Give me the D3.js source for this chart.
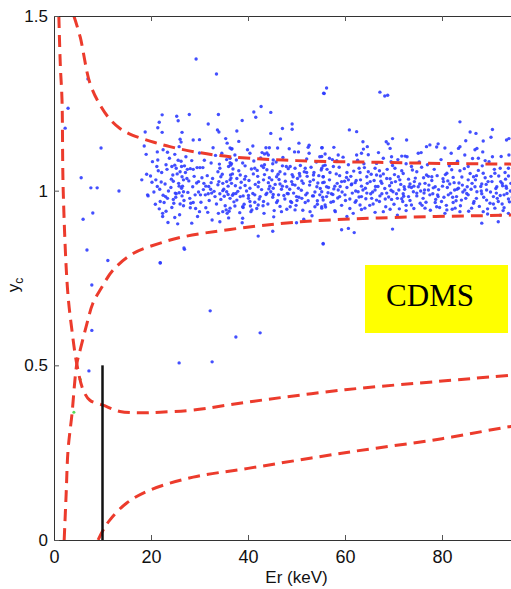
<!DOCTYPE html>
<html>
<head>
<meta charset="utf-8">
<script src="https://cdn.jsdelivr.net/npm/d3@7"></script>
<style>
body { margin: 0; background: #fff; }
</style>
</head>
<body>
<div id="chart"></div>
<script>
// axis ticks
var xTicks = [0, 20, 40, 60, 80];
var yTicks = [0, 0.5, 1, 1.5];

// band limits (dashed red) as [Er, yc]
var elecUpper = [[4.1, 1.5], [5.4, 1.44], [7.4, 1.308], [9.5, 1.245], [11.5, 1.205], [13.6, 1.178], [16, 1.16],
	[19.8, 1.142], [23.9, 1.126], [29.5, 1.11], [36.3, 1.097], [50, 1.086], [67, 1.081], [80, 1.078], [94, 1.076], [100, 1.075]];
var elecLower = [[2.1, 0], [2.5, 0.13], [2.9, 0.258], [3.7, 0.36], [4.7, 0.504], [5.4, 0.544], [6.8, 0.62],
	[8, 0.677], [9.7, 0.72], [12.2, 0.773], [16.3, 0.82], [21.9, 0.85], [26.7, 0.868], [36.3, 0.889],
	[50, 0.91], [67, 0.922], [94, 0.93], [100, 0.932]];
var nucUpper = [[1.0, 1.5], [1.3, 1.36], [1.65, 1.26], [1.9, 1.0], [2.8, 0.716], [3.7, 0.6], [4.7, 0.504],
	[6.0, 0.43], [7.4, 0.40], [10.1, 0.386], [13.6, 0.368], [17.7, 0.364], [21.9, 0.366], [28.7, 0.372],
	[40, 0.395], [60, 0.43], [80, 0.455], [94.2, 0.472], [100, 0.48]];
var nucLower = [[9.1, 0], [10, 0.025], [11.5, 0.057], [15, 0.106], [19.8, 0.143], [28.7, 0.18], [40, 0.205],
	[60, 0.25], [80, 0.29], [94.2, 0.325], [100, 0.335]];

// threshold marker
var thresholdEr = 10;
var thresholdTop = 0.5;

// events outside the main band
var strayEvents = [[7.0, 1.32], [2.9, 1.236], [2.3, 1.179], [9.7, 1.122], [5.6, 1.037], [7.6, 1.008], [8.9, 1.008],
	[13.4, 0.999], [6.0, 0.918], [8.0, 0.936], [6.8, 0.83], [11.1, 0.80], [7.8, 0.73], [7.8, 0.6], [7.2, 0.484],
	[25.8, 0.507], [21.9, 0.793], [26.8, 0.836], [29.3, 1.377], [33.5, 1.334], [32.2, 0.656], [37.5, 0.581],
	[42.5, 0.593], [32.6, 0.51], [55.6, 1.279], [56.2, 1.294], [55.7, 1.278], [67.2, 1.282], [68.2, 1.271],
	[68.8, 1.273], [18.1, 1.031], [19.4, 0.985]];
var greenEvents = [[5.4, 0.46], [4.1, 0.366]];

// electron recoil band events, first pass (edges and visible clusters)
var bandEvents = [
	[22.3, 1.217], [25.3, 1.213], [27.9, 1.218], [33.9, 1.218], [21.7, 1.196], [21.4, 1.18], [22.3, 1.167],
	[25.6, 1.2], [18.8, 1.168], [26.4, 1.167], [31.8, 1.191], [33.7, 1.174], [34, 1.168], [26.0, 1.147],
	[26.2, 1.139], [25.8, 1.126], [28.7, 1.145], [30, 1.146], [35.4, 1.149], [35.7, 1.136], [36.3, 1.122],
	[36.7, 1.12], [18.6, 1.128], [19, 1.104], [21.3, 1.111], [23.4, 1.11], [32.8, 1.123], [34.6, 1.107],
	[25.6, 1.087], [19.1, 1.047], [19.9, 1.042], [20.2, 1.024], [21.2, 1.069], [21.5, 1.057], [23.1, 1.074],
	[24.3, 1.069], [24.9, 1.073], [25.2, 1.064], [24.5, 1.045], [26.3, 1.069], [26.9, 1.071], [27.5, 1.061],
	[28.1, 1.063], [28.7, 1.061], [29.5, 1.066], [30.1, 1.066], [30.7, 1.066], [26, 1.054], [26.4, 1.04],
	[27.4, 1.035], [26.7, 1.031], [21.3, 1.012], [22.1, 1.025], [24.2, 1.033], [19.3, 0.988], [25.8, 1.013],
	[26.3, 1.007], [25.8, 0.994], [26.7, 0.997], [26.4, 0.985], [25, 0.993], [25.2, 0.991], [29.8, 1.026],
	[30.9, 1.021], [31.3, 1.013], [32.4, 1.023], [32.3, 1.004], [33.8, 1.054], [34.2, 1.064], [34.4, 1.04],
	[34.8, 1.021], [34.0, 1.026], [35.6, 1.026], [36.3, 1.031], [36.4, 1.045], [36, 1.069], [36.3, 1.08],
	[36.6, 1.077], [22.5, 0.987], [23.0, 0.983], [23.4, 0.978], [22.7, 0.966], [21.9, 0.969], [24.6, 0.975],
	[24.7, 0.964], [26, 0.962], [26.7, 0.957], [28, 0.978], [28.2, 0.964], [28.7, 0.966], [29.1, 0.988],
	[30.2, 0.988], [31.2, 0.988], [31.8, 0.991], [32.5, 0.993], [33.2, 0.983], [34.2, 0.991], [34.8, 1.0],
	[35.6, 0.997], [35.9, 0.989], [35.1, 0.984], [36.3, 0.978], [36.8, 0.987], [22.4, 0.935], [22.4, 0.926],
	[23.5, 0.909], [24.9, 0.923], [25.5, 0.905], [28.4, 0.907], [29.6, 0.926], [30, 0.94], [31.7, 0.938],
	[32.6, 0.916], [34.2, 0.911], [33.9, 0.935], [34.8, 0.94], [35.5, 0.945], [36.0, 0.922], [36.3, 0.95],
	[35.7, 0.935], [26.9, 0.832], [21.9, 0.794],
	[42.7, 1.241], [41.2, 1.225], [41.6, 1.21], [44.7, 1.224], [38.8, 1.201], [37.7, 1.171], [47.1, 1.178],
	[49.1, 1.191], [49.1, 1.176], [44.7, 1.164], [46.7, 1.148], [38.1, 1.141], [41, 1.128], [36.6, 1.119],
	[43.7, 1.123], [44.4, 1.123], [46.1, 1.122], [48.5, 1.12], [50.5, 1.136], [52.6, 1.13], [52.4, 1.124],
	[55.3, 1.123], [42.9, 1.109], [43.4, 1.105], [40.4, 1.107], [37.3, 1.102], [36.3, 1.093], [50.4, 1.111],
	[52.6, 1.107], [45.2, 1.088], [44.2, 1.102], [49.7, 1.064], [48.7, 1.069], [51.8, 1.064], [55.5, 1.071],
	[54.8, 1.097], [41.4, 1.064], [42.8, 1.071], [43.4, 1.074], [43.9, 1.06], [45.1, 1.077], [41.1, 1.048],
	[39.4, 1.071], [38.4, 1.045], [36.8, 1.048], [36.4, 1.073], [46.6, 1.054], [47.1, 1.071], [47.6, 1.048],
	[45.9, 1.04], [49.3, 1.04], [50.7, 1.042], [52.1, 1.052], [53.5, 1.045], [55.1, 1.059], [55.5, 1.04],
	[36.6, 1.021], [37.7, 1.035], [39.4, 1.015], [40.4, 1.007], [42.1, 1.011], [43.2, 1.031], [44.2, 1.023],
	[44.5, 1.013], [45.2, 1.007], [46.6, 1.019], [48, 1.011], [49, 1.026], [49.7, 1.016], [50.4, 1.007],
	[51.4, 1.021], [52.8, 1.026], [54.2, 1.011], [55.4, 1.023], [37, 0.991], [38.4, 0.983], [39, 0.985],
	[40.1, 0.978], [41.4, 0.988], [42.5, 0.983], [43.9, 0.993], [45.1, 0.981], [46.3, 0.988], [47.6, 0.976],
	[48.3, 0.991], [50, 0.983], [51.1, 0.978], [52.2, 0.993], [53.5, 0.985], [54.8, 0.988], [37.7, 0.973],
	[40.4, 0.969], [43.2, 0.969], [45.9, 0.966], [49, 0.966], [51.8, 0.966], [54.3, 0.971], [37.3, 0.956],
	[38.9, 0.954], [40.8, 0.945], [42.1, 0.959], [43.3, 0.935], [45.4, 0.943], [46.9, 0.94], [48.7, 0.954],
	[49.7, 0.945], [52.8, 0.94], [53.8, 0.954], [55.2, 0.95], [40.6, 0.94], [38.8, 0.908], [50, 0.908],
	[51.5, 0.918], [38.9, 0.921], [42.1, 0.87], [45.1, 0.884], [55.5, 0.849],
	[60.9, 1.174], [62.4, 1.169], [63.7, 1.14], [64.6, 1.126], [63.8, 1.119], [68.5, 1.14], [69.8, 1.149],
	[68.9, 1.134], [72.7, 1.145], [55.2, 1.123], [57.7, 1.124], [55.9, 1.105], [56.8, 1.093], [58.6, 1.102],
	[62.4, 1.102], [63.4, 1.107], [66.9, 1.109], [69.3, 1.121], [69.6, 1.097], [71.7, 1.099], [72.4, 1.099],
	[69.5, 1.083], [55.2, 1.064], [55.9, 1.073], [57.6, 1.069], [58.3, 1.086], [60.4, 1.052], [62.9, 1.064],
	[63.9, 1.077], [64.8, 1.054], [66.2, 1.064], [67.1, 1.057], [67.9, 1.048], [70.3, 1.064], [71.7, 1.057],
	[73.7, 1.069], [72.6, 1.077], [56.9, 1.052], [55.5, 1.04], [56.2, 1.011], [57.9, 1.013], [59.3, 1.026],
	[60.7, 1.031], [61.4, 1.019], [62.1, 1.023], [63.4, 1.013], [64.5, 1.04], [65.2, 1.026], [66.5, 1.045],
	[67.6, 1.021], [68.6, 1.035], [69.6, 1.023], [71, 1.04], [72.2, 1.011], [73.4, 1.019], [74.2, 1.013],
	[71.3, 1.031], [55.2, 0.997], [56.2, 0.983], [57.2, 0.991], [58.6, 1.002], [58.9, 0.983], [60, 0.988],
	[61, 0.976], [62.7, 0.997], [63.4, 0.983], [64.5, 0.993], [65.5, 0.978], [66.2, 1.002], [67.2, 0.985],
	[68.6, 0.993], [69.9, 0.997], [70.8, 0.978], [72, 0.991], [73.1, 0.983], [74.1, 0.997], [55.5, 0.973],
	[57.6, 0.969], [62.3, 0.971], [66.5, 0.973], [69.6, 0.975], [71.9, 0.969], [55.9, 0.959], [58, 0.94],
	[60.4, 0.926], [61.7, 0.935], [63.1, 0.959], [64.1, 0.95], [65.8, 0.962], [67.9, 0.94], [69.3, 0.947],
	[70.8, 0.93], [72.6, 0.943], [73.7, 0.959], [55.2, 0.954], [59.3, 0.888], [60.7, 0.892], [61.9, 0.88],
	[69.8, 0.89], [55.5, 0.847],
	[83.7, 1.197], [85.8, 1.168], [87, 1.164], [90.4, 1.175], [90.1, 1.153], [93.3, 1.145], [93.8, 1.149],
	[77.5, 1.131], [78.9, 1.125], [79.2, 1.134], [76.8, 1.126], [75.1, 1.107], [75.7, 1.109], [80.6, 1.122],
	[81.9, 1.107], [83.4, 1.121], [83.7, 1.126], [84.9, 1.143], [86.8, 1.117], [87.2, 1.121], [88.5, 1.142],
	[88.4, 1.111], [84.7, 1.102], [88.9, 1.086], [90.4, 1.097], [93.8, 1.102], [87.5, 1.093], [75.8, 1.067],
	[77.9, 1.04], [76.8, 1.045], [81, 1.05], [82, 1.06], [83.7, 1.057], [85.4, 1.069], [86.5, 1.04],
	[88.5, 1.05], [90.9, 1.05], [92, 1.064], [93, 1.052], [93.7, 1.042], [74.8, 1.054], [75.1, 1.011],
	[76.5, 1.021], [78.6, 1.011], [80.3, 1.026], [81.6, 1.019], [82.5, 1.023], [83.4, 1.007], [85.4, 1.031],
	[86.8, 1.011], [88.2, 1.019], [89.5, 1.026], [91.3, 1.011], [92.4, 1.021], [93.3, 1.007], [77.2, 1.002],
	[84.7, 1.002], [74.8, 0.993], [76.1, 0.978], [77.5, 0.988], [79.2, 0.983], [79.9, 0.969], [81.3, 0.988],
	[83, 0.983], [84, 0.973], [85.4, 0.988], [87.1, 0.978], [88.2, 0.991], [89.2, 0.973], [90.6, 0.983],
	[91.6, 0.969], [92.8, 0.988], [93.7, 0.976], [75.5, 0.964], [78.6, 0.966], [82.3, 0.966], [86.5, 0.964],
	[89.9, 0.964], [92.4, 0.962], [76.5, 0.95], [78.9, 0.954], [81, 0.945], [82.7, 0.95], [83.7, 0.94],
	[86.1, 0.95], [88.5, 0.94], [90.9, 0.95], [92.6, 0.943], [80.6, 0.935], [88.2, 0.907], [91.6, 0.911],
	[92, 0.93], [89.4, 0.933], [93.7, 0.935]
];

// electron recoil band events, second pass (dense core)
var bandCoreEvents = [
	[20.3, 1.083], [20.6, 0.996], [20.9, 0.961], [21.0, 1.031], [21.4, 1.088], [21.7, 0.948], [21.8, 1.004],
	[22.2, 1.052], [22.5, 1.117], [22.9, 1.019], [23.1, 0.941], [23.3, 1.061], [23.6, 0.999], [23.8, 1.093],
	[24.1, 1.009], [24.3, 0.952], [24.6, 1.027], [24.9, 1.104], [25.1, 0.981], [25.4, 1.048], [25.7, 1.021],
	[25.9, 0.931], [26.2, 1.084], [26.5, 1.013], [26.8, 0.972], [27.1, 1.052], [27.2, 1.097], [27.6, 0.995],
	[27.8, 1.028], [28.1, 0.951], [28.4, 1.086], [28.6, 1.011], [28.9, 1.041], [29.2, 0.949], [29.4, 1.022],
	[29.8, 0.996], [30.0, 1.108], [30.3, 0.967], [30.5, 1.037], [30.8, 1.003], [31.0, 1.087], [31.3, 0.951],
	[31.6, 1.043], [31.9, 1.012], [32.0, 0.972], [32.4, 1.079], [32.7, 1.035], [33.0, 0.998], [33.3, 1.101],
	[33.5, 0.962], [33.8, 1.017], [34.1, 1.076], [34.4, 0.975], [34.7, 1.047], [35.0, 1.004], [35.3, 0.957],
	[35.6, 1.089], [35.9, 1.013], [36.1, 0.941], [36.5, 1.036],
	[36.9, 1.062], [37.1, 0.968], [37.4, 1.014], [37.6, 1.088], [37.9, 0.998], [38.1, 1.057], [38.3, 0.937],
	[38.6, 1.024], [38.9, 1.079], [39.2, 0.961], [39.5, 1.041], [39.7, 0.999], [39.9, 1.117], [40.2, 1.029],
	[40.5, 0.956], [40.7, 1.062], [41.0, 0.992], [41.2, 1.085], [41.5, 1.018], [41.8, 0.949], [42.0, 1.041],
	[42.3, 0.976], [42.6, 1.094], [42.8, 1.003], [43.1, 0.957], [43.4, 1.046], [43.7, 0.989], [43.9, 1.108],
	[44.1, 0.962], [44.4, 1.037], [44.7, 0.997], [45.0, 1.057], [45.3, 0.925], [45.6, 1.018], [45.8, 1.082],
	[46.1, 0.971], [46.4, 1.032], [46.6, 0.955], [46.9, 1.004], [47.2, 1.095], [47.4, 0.986], [47.7, 1.027],
	[48.0, 0.947], [48.3, 1.063], [48.6, 1.004], [48.8, 0.969], [49.1, 1.046], [49.4, 0.993], [49.6, 1.111],
	[49.9, 0.958], [50.2, 1.035], [50.5, 0.981], [50.8, 1.072], [51.0, 1.001], [51.3, 0.944], [51.6, 1.054],
	[51.9, 0.988], [52.1, 1.091], [52.4, 0.971], [52.7, 1.016], [53.0, 1.067], [53.2, 0.928], [53.5, 1.031],
	[53.8, 0.996], [54.1, 1.082], [54.3, 0.961], [54.6, 1.043], [54.9, 1.006], [55.2, 1.098], [55.4, 0.981],
	[37.5, 0.992], [38.4, 1.008], [39.3, 1.033], [40.1, 0.986], [41.4, 0.967], [42.2, 1.024], [43.2, 1.066],
	[44.3, 1.005], [45.2, 0.989], [46.2, 1.047], [47.1, 1.013], [48.1, 0.992], [49.2, 1.018], [50.1, 0.972],
	[51.1, 1.028], [52.2, 1.041], [53.3, 0.985], [54.4, 1.022], [39.0, 0.952], [41.9, 1.058], [44.9, 1.031],
	[47.9, 1.069], [50.6, 1.049], [53.6, 1.052],
	[55.7, 1.024], [56.0, 0.953], [56.3, 1.061], [56.5, 0.994], [56.8, 1.031], [57.1, 0.967], [57.4, 1.089],
	[57.7, 1.005], [57.9, 0.943], [58.2, 1.048], [58.5, 0.979], [58.8, 1.067], [59.0, 1.012], [59.3, 0.958],
	[59.6, 1.096], [59.9, 1.027], [60.1, 0.972], [60.4, 1.009], [60.7, 1.074], [61.0, 0.949], [61.2, 1.041],
	[61.5, 0.993], [61.8, 1.056], [62.1, 0.967], [62.3, 1.029], [62.6, 1.087], [62.9, 0.982], [63.2, 1.031],
	[63.4, 0.946], [63.7, 1.002], [64.0, 1.066], [64.3, 0.977], [64.6, 1.021], [64.8, 1.103], [65.1, 0.958],
	[65.4, 1.047], [65.7, 0.996], [66.0, 1.029], [66.2, 0.938], [66.5, 1.078], [66.8, 1.012], [67.1, 0.969],
	[67.3, 1.042], [67.6, 0.991], [67.9, 1.093], [68.2, 1.006], [68.4, 0.954], [68.7, 1.061], [69.0, 0.982],
	[69.3, 1.034], [69.5, 1.001], [69.8, 1.072], [70.1, 0.961], [70.4, 1.026], [70.6, 0.991], [70.9, 1.089],
	[71.2, 0.948], [71.5, 1.018], [71.7, 0.977], [72.0, 1.049], [72.3, 1.004], [72.6, 0.958], [72.8, 1.097],
	[73.1, 1.033], [73.4, 0.972], [73.7, 1.009], [73.9, 1.059], [74.2, 0.949], [74.5, 1.036], [74.8, 0.985],
	[56.6, 1.009], [57.5, 0.989], [58.4, 1.021], [59.4, 0.996], [60.3, 1.038], [61.3, 1.017], [62.2, 0.999],
	[63.1, 1.052], [64.2, 1.007], [65.3, 0.991], [66.3, 1.012], [67.4, 1.027], [68.3, 0.976], [69.2, 1.014],
	[70.2, 1.046], [71.1, 1.002], [72.1, 0.984], [73.2, 1.011], [74.3, 1.026], [58.9, 1.043],
	[75.3, 1.082], [75.6, 0.999], [75.9, 0.958], [76.2, 1.037], [76.4, 1.002], [76.7, 0.967], [77.0, 1.074],
	[77.3, 1.016], [77.6, 0.944], [77.9, 1.029], [78.1, 0.991], [78.4, 1.061], [78.7, 0.975], [79.0, 1.043],
	[79.3, 1.003], [79.5, 0.952], [79.8, 1.089], [80.1, 1.013], [80.4, 0.981], [80.7, 1.046], [80.9, 0.958],
	[81.2, 1.028], [81.5, 1.071], [81.8, 0.993], [82.1, 0.947], [82.3, 1.038], [82.6, 1.002], [82.9, 0.971],
	[83.2, 1.084], [83.5, 1.022], [83.8, 0.957], [84.1, 1.039], [84.3, 0.996], [84.6, 1.063], [84.9, 0.978],
	[85.2, 1.011], [85.5, 0.941], [85.8, 1.049], [86.0, 1.004], [86.3, 1.092], [86.6, 0.969], [86.9, 1.031],
	[87.2, 0.997], [87.5, 1.058], [87.7, 0.955], [88.0, 1.012], [88.3, 1.071], [88.6, 0.981], [88.9, 1.037],
	[89.2, 1.002], [89.4, 0.948], [89.7, 1.083], [90.0, 0.996], [90.3, 1.026], [90.6, 0.962], [90.8, 1.061],
	[91.1, 1.006], [91.4, 0.978], [91.7, 1.042], [92.0, 0.986], [92.2, 1.098], [92.5, 1.014], [92.8, 0.951],
	[93.1, 1.033], [93.4, 0.992], [93.7, 1.064], [93.9, 0.968], [94.2, 1.021], [94.5, 0.981], [94.8, 1.047],
	[75.4, 1.019], [76.3, 0.993], [77.2, 1.041], [78.2, 1.008], [79.1, 0.988], [80.2, 1.034], [81.1, 1.009],
	[82.2, 0.981], [83.1, 1.004], [84.2, 1.016], [85.1, 0.992], [86.2, 1.021], [87.1, 1.043], [88.1, 0.999],
	[89.1, 1.018], [90.1, 1.041], [91.2, 0.993], [92.1, 1.026], [93.2, 1.013], [94.1, 0.999]
];

var width = 511;
var height = 589;
var padLeft = 54, padTop = 16, plotRight = 539, plotBottom = 540;

var xScale = d3.scaleLinear().domain([0, 100]).range([padLeft, plotRight]);
var yScale = d3.scaleLinear().domain([0, 1.5]).range([plotBottom, padTop]);

var svg = d3.select('#chart')
	.append('svg')
	.attr('width', width)
	.attr('height', height)
	.style('font-family', 'Liberation Sans, Arial, sans-serif');

svg.append('clipPath')
	.attr('id', 'plotClip')
	.append('rect')
	.attr('x', padLeft)
	.attr('y', padTop)
	.attr('width', plotRight - padLeft)
	.attr('height', plotBottom - padTop);

var plot = svg.append('g').attr('clip-path', 'url(#plotClip)');

// scatter
plot.selectAll('circle.band')
	.data(bandEvents.concat(bandCoreEvents, strayEvents))
	.enter()
	.append('circle')
	.attr('class', 'band')
	.attr('cx', function (d) {return xScale(d[0]);})
	.attr('cy', function (d) {return yScale(d[1]);})
	.attr('r', 1.7)
	.attr('fill', '#2f3cff')
	.attr('fill-opacity', 0.9);

plot.selectAll('circle.green')
	.data(greenEvents)
	.enter()
	.append('circle')
	.attr('class', 'green')
	.attr('cx', function (d) {return xScale(d[0]);})
	.attr('cy', function (d) {return yScale(d[1]);})
	.attr('r', 1.5)
	.attr('fill', '#55dd55');

// dashed band limits
var line = d3.line()
	.x(function (d) {return xScale(d[0]);})
	.y(function (d) {return yScale(d[1]);})
	.curve(d3.curveCatmullRom);

[elecUpper, elecLower, nucUpper, nucLower].forEach(function (c) {
	plot.append('path')
		.datum(c)
		.attr('d', line)
		.attr('fill', 'none')
		.attr('stroke', '#ec3b2c')
		.attr('stroke-width', 3)
		.attr('stroke-dasharray', '12,7');
});

// threshold line
plot.append('line')
	.attr('x1', xScale(thresholdEr))
	.attr('x2', xScale(thresholdEr))
	.attr('y1', yScale(0))
	.attr('y2', yScale(thresholdTop))
	.attr('stroke', '#111')
	.attr('stroke-width', 2.5);

// axes
var fmt = function (d) {return String(d);};
var xAxis = svg.append('g')
	.attr('transform', 'translate(0,' + plotBottom + ')')
	.call(d3.axisBottom(xScale).tickValues(xTicks).tickSize(-5).tickSizeOuter(0).tickPadding(10).tickFormat(fmt));
var xTop = svg.append('g')
	.attr('transform', 'translate(0,' + padTop + ')')
	.call(d3.axisTop(xScale).tickValues(xTicks).tickSize(-5).tickSizeOuter(0).tickFormat(''));
var yAxis = svg.append('g')
	.attr('transform', 'translate(' + padLeft + ',0)')
	.call(d3.axisLeft(yScale).tickValues(yTicks).tickSize(-5).tickSizeOuter(0).tickPadding(6).tickFormat(fmt));

svg.selectAll('.domain').attr('stroke', '#333');
svg.selectAll('.tick line').attr('stroke', '#555');
svg.selectAll('.tick text')
	.attr('fill', '#111')
	.style('font-family', 'Liberation Sans, Arial, sans-serif');
xAxis.selectAll('text').style('font-size', '18px');
yAxis.selectAll('text').style('font-size', '17px');

svg.append('text')
	.attr('x', xScale(50))
	.attr('y', 583)
	.attr('text-anchor', 'middle')
	.attr('font-size', '17px')
	.attr('fill', '#111')
	.text('Er (keV)');

var yLabel = svg.append('text')
	.attr('transform', 'translate(19,285) rotate(-90)')
	.attr('text-anchor', 'middle')
	.attr('font-size', '17px')
	.attr('fill', '#111');
yLabel.append('tspan').text('y');
yLabel.append('tspan').attr('dy', 4).attr('font-size', '12px').text('c');

// CDMS box
svg.append('rect')
	.attr('x', 365)
	.attr('y', 265)
	.attr('width', 143)
	.attr('height', 68)
	.attr('fill', '#ffff00');
svg.append('text')
	.attr('x', 430)
	.attr('y', 306)
	.attr('text-anchor', 'middle')
	.attr('font-family', 'Liberation Serif, Times New Roman, serif')
	.attr('font-size', '31px')
	.attr('fill', '#000')
	.text('CDMS');
</script>
</body>
</html>
